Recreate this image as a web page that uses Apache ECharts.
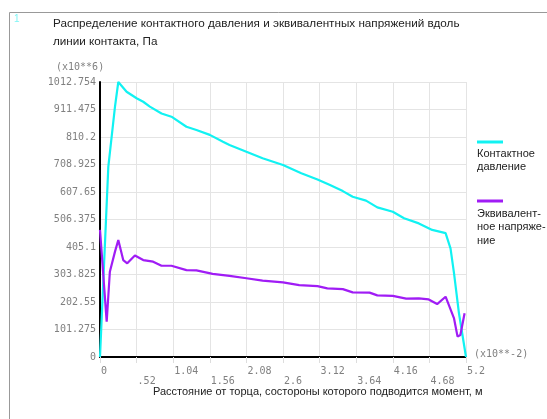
<!DOCTYPE html>
<html>
<head>
<meta charset="utf-8">
<script src="https://cdn.jsdelivr.net/npm/echarts@6/dist/echarts.min.js"></script>
<style>html,body{margin:0;padding:0;background:#fff;}#c{width:547px;height:419px;}</style>
</head>
<body>
<div id="c"></div>
<script>
// x in units of 1e-2 m, y in units of 1e6 Pa
var contactX = [0, 0.118, 0.213, 0.26, 0.378, 0.52, 0.614, 0.708, 0.874, 1.015, 1.228, 1.37, 1.56, 1.747, 1.84, 2.08, 2.31, 2.60, 2.86, 3.09, 3.26, 3.45, 3.59, 3.78, 3.94, 4.16, 4.32, 4.53, 4.72, 4.91, 4.98, 5.03, 5.10, 5.2];
var contactP = [0, 700, 922, 1012.754, 977, 953, 940, 922, 897, 885, 848, 836, 818, 793, 781, 756, 732, 707, 677, 654, 634, 611, 590, 576, 551, 535, 511, 492, 468, 456, 400, 308, 161, 0];
var eqvX = [0, 0.095, 0.14, 0.213, 0.26, 0.33, 0.387, 0.496, 0.614, 0.755, 0.874, 1.015, 1.228, 1.37, 1.6, 1.84, 2.08, 2.31, 2.60, 2.83, 3.09, 3.23, 3.45, 3.59, 3.83, 3.94, 4.16, 4.35, 4.53, 4.67, 4.79, 4.91, 5.03, 5.08, 5.12, 5.18];
var eqvS = [468, 130, 314, 388, 431, 357, 345, 374, 357, 351, 336, 336, 320, 319, 306, 299, 290, 281, 275, 265, 261, 253, 250, 238, 237, 227, 225, 215, 216, 212, 195, 222, 142, 75, 81, 161];
var xTickLabels = ['0', '.52', '1.04', '1.56', '2.08', '2.6', '3.12', '3.64', '4.16', '4.68', '5.2'];
var yTickLabels = ['0', '101.275', '202.55', '303.825', '405.1', '506.375', '607.65', '708.925', '810.2', '911.475', '1012.754'];
var seriesNames = ['Контактное давление', 'Эквивалентное напряжение'];

function zip(a, b) { return a.map(function (v, i) { return [v, b[i]]; }); }

var chart = echarts.init(document.getElementById('c'), null, { renderer: 'canvas' });
var mono = 'DejaVu Sans Mono';
var sans = 'Liberation Sans, Arial, sans-serif';
chart.setOption({
  animation: false,
  backgroundColor: '#fff',
  grid: { left: 100, right: 81, top: 82, bottom: 62, containLabel: false },
  xAxis: {
    type: 'value', min: 0, max: 5.2, interval: 0.52,
    axisLine: { show: true, onZero: false, lineStyle: { color: '#000', width: 2 } },
    axisTick: { show: true, length: 6, lineStyle: { color: '#dddddd' } },
    splitLine: { show: true, lineStyle: { color: '#e4e4e4', width: 1 } },
    axisLabel: {
      margin: 9, align: 'left', verticalAlign: 'top', lineHeight: 10,
      fontFamily: mono, fontSize: 10, color: '#808080', padding: [0, 0, 0, 1],
      formatter: function (v) {
        var i = Math.round(v / 0.52);
        var t = xTickLabels[i] || '';
        return (i % 2 === 1) ? ('\n' + t) : t;
      }
    }
  },
  yAxis: {
    type: 'value', min: 0, max: 1012.754, interval: 101.2754,
    axisLine: { show: true, onZero: false, lineStyle: { color: '#000', width: 2 } },
    axisTick: { show: false },
    splitLine: { show: true, lineStyle: { color: '#e4e4e4', width: 1 } },
    axisLabel: {
      margin: 4, fontFamily: mono, fontSize: 10, color: '#808080',
      formatter: function (v) { return yTickLabels[Math.round(v / 101.2754)] || ''; }
    }
  },
  series: [
    { name: seriesNames[0], type: 'line', data: zip(contactX, contactP), showSymbol: false, symbol: 'none',
      lineStyle: { color: '#11f2f2', width: 2.2 }, z: 5 },
    { name: seriesNames[1], type: 'line', data: zip(eqvX, eqvS), showSymbol: false, symbol: 'none',
      lineStyle: { color: '#a01cf5', width: 2.2 }, z: 6 }
  ],
  graphic: [
    { type: 'line', shape: { x1: 9.5, y1: 12.5, x2: 547, y2: 12.5 }, style: { stroke: '#999', lineWidth: 1 } },
    { type: 'line', shape: { x1: 9.5, y1: 12.5, x2: 9.5, y2: 419 }, style: { stroke: '#999', lineWidth: 1 } },
    { type: 'text', left: 14, top: 14, style: { text: '1', fill: '#7ff5f5', font: '10px ' + sans } },
    { type: 'text', left: 53, top: 15, style: { text: 'Распределение контактного давления и эквивалентных напряжений вдоль\nлинии контакта, Па', fill: '#222', font: '11.7px ' + sans, lineHeight: 18 } },
    { type: 'text', left: 56, top: 62, style: { text: '(x10**6)', fill: '#808080', font: '10px ' + mono } },
    { type: 'text', left: 474, top: 349, style: { text: '(x10**-2)', fill: '#808080', font: '10px ' + mono } },
    { type: 'text', left: 153, top: 386, style: { text: 'Расстояние от торца, состороны которого подводится момент, м', fill: '#222', font: '11px ' + sans } },
    { type: 'line', shape: { x1: 477, y1: 142, x2: 503, y2: 142 }, style: { stroke: '#11f2f2', lineWidth: 3 } },
    { type: 'text', left: 477, top: 147, style: { text: 'Контактное\nдавление', fill: '#222', font: '11px ' + sans, lineHeight: 13 } },
    { type: 'line', shape: { x1: 477, y1: 201, x2: 503, y2: 201 }, style: { stroke: '#a01cf5', lineWidth: 3 } },
    { type: 'text', left: 477, top: 207, style: { text: 'Эквивалент-\nное напряже-\nние', fill: '#222', font: '11px ' + sans, lineHeight: 13.5 } }
  ]
});
</script>
</body>
</html>
